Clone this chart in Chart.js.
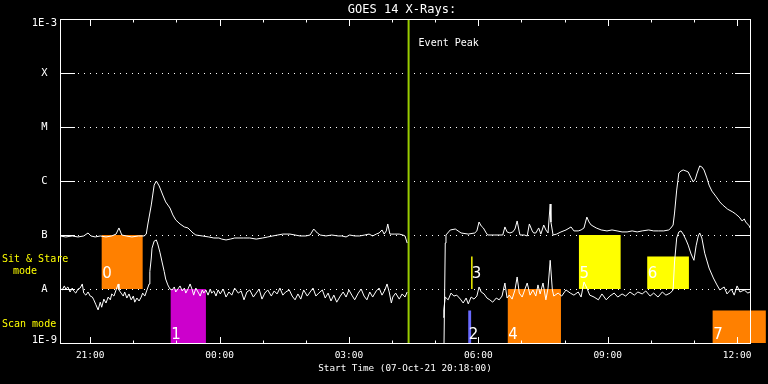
<!DOCTYPE html>
<html lang="en">

<head>
    <meta charset="UTF-8">
    <title>GOES 14 X-Rays</title>
    <script src="https://cdn.jsdelivr.net/npm/chart.js"></script>
    <style>
        html, body { margin: 0; padding: 0; background: #000; }
        #grafico { display: block; }
    </style>
</head>

<body>
    <canvas id="grafico" width="768" height="384"></canvas>
</body>

</html>
<script>
    // tempo em minutos desde 07-Oct-21 20:18:00, fluxo em W/m2
    // canal longo (1-8 A)
    var canalLongo = [
        [0, 9.6e-8], [8, 9.2e-8], [17, 9.6e-8], [25, 9.2e-8], [33, 9.6e-8], [39, 1.09e-7], [43, 9.6e-8], [49, 9.2e-8],
        [56, 9.6e-8], [64, 9.2e-8], [72, 9.6e-8], [78, 1.04e-7], [82, 1.35e-7], [86, 1.0e-7], [92, 9.6e-8], [100, 9.2e-8],
        [109, 9.6e-8], [117, 9.6e-8], [120, 1.04e-7], [122, 1.53e-7], [127, 3.6e-7], [131, 8.4e-7], [134, 1.0e-6], [138, 8.1e-7],
        [143, 5.5e-7], [147, 4.1e-7], [153, 3.16e-7], [157, 2.35e-7], [161, 1.9e-7], [167, 1.6e-7], [173, 1.41e-7], [178, 1.35e-7],
        [185, 1.09e-7], [189, 1.0e-7], [198, 9.6e-8], [207, 9.2e-8], [214, 8.8e-8], [221, 8.8e-8], [225, 8.4e-8], [231, 8.1e-8],
        [237, 8.4e-8], [243, 8.8e-8], [255, 8.8e-8], [264, 8.8e-8], [273, 8.4e-8], [282, 8.8e-8], [289, 9.2e-8], [296, 9.6e-8],
        [303, 1.0e-7], [310, 1.04e-7], [320, 1.04e-7], [327, 1.0e-7], [334, 9.6e-8], [342, 9.6e-8], [348, 1.0e-7], [353, 1.29e-7],
        [358, 1.09e-7], [362, 1.0e-7], [370, 9.6e-8], [378, 1.0e-7], [387, 9.6e-8], [392, 9.6e-8], [398, 9.2e-8], [403, 1.0e-7],
        [410, 9.6e-8], [417, 9.6e-8], [424, 1.0e-7], [430, 1.04e-7], [435, 9.6e-8], [440, 1.04e-7], [444, 1.09e-7], [448, 1.24e-7],
        [451, 1.04e-7], [454, 1.19e-7], [456, 1.6e-7], [459, 1.04e-7], [465, 1.04e-7], [472, 1.04e-7], [477, 1.0e-7], [480, 9.6e-8],
        [483, 7.1e-8], [500, null],
        [534, 5e-10], [536, 7.1e-8], [537, 1.0e-7], [543, 1.24e-7], [550, 1.29e-7], [558, 1.09e-7], [568, 1.04e-7], [577, 1.09e-7],
        [580, 1.19e-7], [583, 1.74e-7], [586, 1.47e-7], [589, 1.35e-7], [593, 1.09e-7], [595, 1.0e-7], [605, 1.0e-7], [616, 1.0e-7],
        [619, 1.41e-7], [622, 1.14e-7], [626, 1.09e-7], [630, 1.14e-7], [633, 1.29e-7], [636, 1.82e-7], [639, 1.14e-7], [640, 1.0e-7],
        [646, 1.0e-7], [650, 9.6e-8], [653, 1.6e-7], [657, 1.19e-7], [659, 1.09e-7], [662, 1.09e-7], [666, 1.35e-7], [669, 1.04e-7],
        [673, 1.53e-7], [676, 1.24e-7], [679, 1.09e-7], [682, 3.75e-7], [683, 1.74e-7], [686, 1.0e-7], [691, 1.04e-7], [697, 1.14e-7],
        [704, 1.24e-7], [711, 1.41e-7], [715, 1.19e-7], [721, 1.19e-7], [725, 1.24e-7], [729, 1.35e-7], [733, 2.15e-7], [736, 1.74e-7],
        [739, 1.53e-7], [746, 1.35e-7], [753, 1.24e-7], [761, 1.19e-7], [768, 1.24e-7], [775, 1.19e-7], [782, 1.14e-7], [789, 1.14e-7],
        [796, 1.19e-7], [803, 1.14e-7], [810, 1.19e-7], [819, 1.24e-7], [826, 1.19e-7], [833, 1.19e-7], [840, 1.19e-7], [847, 1.24e-7],
        [850, 1.35e-7], [853, 1.53e-7], [855, 2.55e-7], [858, 6.8e-7], [861, 1.41e-6], [864, 1.53e-6], [867, 1.6e-6], [871, 1.53e-6],
        [874, 1.47e-6], [878, 1.14e-6], [881, 9.6e-7], [884, 1.09e-6], [886, 1.35e-6], [890, 1.9e-6], [893, 1.82e-6], [896, 1.6e-6],
        [900, 1.14e-6], [903, 8.4e-7], [907, 6.5e-7], [913, 5.1e-7], [918, 4.1e-7], [922, 3.6e-7], [929, 3.0e-7], [936, 2.67e-7],
        [940, 2.45e-7], [945, 2.15e-7], [949, 1.82e-7], [952, 1.98e-7], [954, 1.74e-7], [959, 1.47e-7], [960, 1.35e-7]
    ];

    // canal curto (0.5-4 A)
    var canalCurto = [
        [0, 1.04e-8], [3, 9.6e-9], [6, 1.14e-8], [8, 1.0e-8], [11, 1.09e-8], [14, 8.8e-9], [17, 1.04e-8], [19, 9.2e-9],
        [22, 8.4e-9], [25, 1.0e-8], [28, 1.04e-8], [31, 1.24e-8], [33, 8.4e-9], [36, 7.7e-9], [39, 8.8e-9], [42, 7.4e-9],
        [45, 7.1e-9], [47, 6.3e-9], [50, 5.1e-9], [53, 4.1e-9], [56, 5.7e-9], [58, 4.6e-9], [61, 6.5e-9], [64, 5.5e-9],
        [67, 7.1e-9], [70, 6.3e-9], [72, 8.1e-9], [75, 7.4e-9], [78, 9.6e-9], [81, 1.24e-8], [82, 9.6e-9], [85, 8.4e-9],
        [88, 7.4e-9], [90, 8.8e-9], [93, 6.8e-9], [96, 8.1e-9], [99, 6.3e-9], [102, 7.4e-9], [104, 5.7e-9], [107, 6.8e-9],
        [110, 6.0e-9], [113, 7.1e-9], [115, 8.4e-9], [118, 7.4e-9], [121, 9.6e-9], [124, 1.24e-8], [125, 2.1e-8], [127, 3.75e-8],
        [128, 5.7e-8], [131, 7.7e-8], [134, 8.1e-8], [136, 6.8e-8], [139, 4.8e-8], [142, 3.16e-8], [145, 2.1e-8], [147, 1.53e-8],
        [150, 1.19e-8], [153, 1.0e-8], [156, 9.6e-9], [159, 1.09e-8], [161, 8.8e-9], [164, 1.0e-8], [167, 1.14e-8], [170, 9.2e-9],
        [173, 1.04e-8], [175, 8.4e-9], [178, 1.0e-8], [181, 1.24e-8], [184, 9.6e-9], [186, 7.7e-9], [189, 1.04e-8], [192, 8.8e-9],
        [195, 7.4e-9], [198, 9.6e-9], [200, 8.4e-9], [203, 9.6e-9], [206, 7.7e-9], [209, 1.0e-8], [211, 8.4e-9], [214, 9.2e-9],
        [217, 7.4e-9], [220, 9.6e-9], [223, 8.1e-9], [227, 1.0e-8], [231, 7.1e-9], [235, 8.8e-9], [239, 7.7e-9], [243, 1.04e-8],
        [248, 8.4e-9], [252, 9.2e-9], [256, 6.3e-9], [260, 8.8e-9], [264, 9.6e-9], [269, 7.1e-9], [273, 8.4e-9], [277, 1.0e-8],
        [281, 6.5e-9], [285, 8.4e-9], [289, 9.6e-9], [294, 7.4e-9], [298, 9.2e-9], [302, 8.1e-9], [306, 1.04e-8], [310, 7.7e-9],
        [314, 8.8e-9], [319, 9.6e-9], [323, 7.4e-9], [327, 6.3e-9], [331, 8.1e-9], [335, 6.5e-9], [339, 9.6e-9], [344, 7.4e-9],
        [348, 8.8e-9], [352, 1.04e-8], [356, 7.4e-9], [360, 8.4e-9], [365, 9.6e-9], [369, 6.8e-9], [373, 8.4e-9], [377, 6.0e-9],
        [381, 7.7e-9], [385, 5.7e-9], [390, 7.4e-9], [394, 8.8e-9], [398, 7.1e-9], [402, 9.6e-9], [406, 7.7e-9], [410, 6.3e-9],
        [415, 8.4e-9], [419, 1.0e-8], [423, 7.4e-9], [427, 6.3e-9], [431, 8.8e-9], [435, 7.1e-9], [440, 9.2e-9], [444, 1.04e-8],
        [448, 7.7e-9], [452, 9.6e-9], [455, 1.24e-8], [458, 8.8e-9], [461, 5.5e-9], [463, 7.1e-9], [467, 8.4e-9], [472, 6.5e-9],
        [476, 8.1e-9], [480, 7.1e-9], [483, 8.8e-9], [500, null],
        [533, 3.0e-9], [534, 4.1e-9], [536, 7.1e-9], [540, 6.3e-9], [544, 8.4e-9], [548, 7.4e-9], [552, 7.7e-9], [557, 6.5e-9],
        [561, 5.5e-9], [565, 6.8e-9], [568, 5.3e-9], [572, 7.1e-9], [576, 6.5e-9], [580, 7.4e-9], [583, 1.09e-8], [586, 8.8e-9],
        [590, 8.1e-9], [594, 6.8e-9], [598, 6.3e-9], [602, 5.7e-9], [607, 6.8e-9], [611, 6.3e-9], [615, 7.4e-9], [619, 1.29e-8],
        [622, 6.8e-9], [625, 7.7e-9], [629, 6.5e-9], [633, 9.6e-9], [636, 1.67e-8], [639, 8.4e-9], [643, 7.1e-9], [646, 9.2e-9],
        [650, 1.29e-8], [654, 7.7e-9], [658, 9.6e-9], [662, 7.4e-9], [665, 1.19e-8], [668, 8.1e-9], [672, 1.29e-8], [676, 6.3e-9],
        [679, 1.04e-8], [682, 3.4e-8], [685, 9.6e-9], [687, 7.4e-9], [693, 8.4e-9], [698, 7.4e-9], [704, 9.6e-9], [710, 8.4e-9],
        [715, 7.7e-9], [721, 8.8e-9], [725, 7.1e-9], [729, 1.35e-8], [733, 1.04e-8], [737, 7.7e-9], [743, 7.1e-9], [749, 6.3e-9],
        [754, 8.1e-9], [760, 6.3e-9], [765, 7.4e-9], [771, 8.4e-9], [776, 7.1e-9], [782, 8.1e-9], [787, 7.4e-9], [793, 8.8e-9],
        [799, 7.7e-9], [804, 8.8e-9], [810, 8.1e-9], [815, 9.2e-9], [821, 7.4e-9], [826, 8.4e-9], [832, 7.1e-9], [838, 8.8e-9],
        [843, 7.7e-9], [849, 8.4e-9], [853, 9.6e-9], [855, 3.16e-8], [858, 8.8e-8], [861, 1.14e-7], [864, 1.19e-7], [867, 1.04e-7],
        [871, 8.1e-8], [874, 6.5e-8], [878, 4.45e-8], [882, 3.4e-8], [885, 6.3e-8], [888, 9.6e-8], [890, 1.09e-7], [893, 8.8e-8],
        [897, 4.6e-8], [903, 2.45e-8], [909, 1.6e-8], [914, 1.19e-8], [918, 9.6e-9], [924, 1.09e-8], [928, 8.1e-9], [934, 1.0e-8],
        [938, 7.7e-9], [942, 1.14e-8], [946, 8.8e-9], [952, 9.6e-9], [957, 8.4e-9], [960, 8.8e-9]
    ];

    // eixos
    var ticksHora = [42, 222, 402, 582, 762, 942];
    var rotulosHora = ["21:00", "00:00", "03:00", "06:00", "09:00", "12:00"];
    var ticksMenores = [42, 102, 162, 222, 282, 342, 402, 462, 522, 582, 642, 702, 762, 822, 882, 942];
    var ticksFluxo = [1e-9, 1e-8, 1e-7, 1e-6, 1e-5, 1e-4, 1e-3];
    var rotulosFluxo = ["1E-9", "A", "B", "C", "M", "X", "1E-3"];

    // pico do evento (minutos)
    var picoEvento = 485;

    // blocos de observacao
    var blocoNome = ["0", "1", "2", "3", "4", "5", "6", "7"];
    var blocoInicio = [58, 154, 568, 572, 623, 722, 817, 908];
    var blocoFim = [115, 203, 572, 574, 697, 780, 875, 982];
    var blocoMin = [1e-8, 1e-9, 1e-9, 1e-8, 1e-9, 1e-8, 1e-8, 1e-9];
    var blocoMax = [1e-7, 1e-8, 4e-9, 4e-8, 1e-8, 1e-7, 4e-8, 4e-9];

    var coresBloco = ['#ff8000', '#cc00cc', '#6a6aff', '#ffff00', '#ff8000', '#ffff00', '#ffff00', '#ff8000'];
    var mono = 'DejaVu Sans Mono';

    // plugin que desenha moldura, pontilhado, blocos e textos soltos
    var desenhos = {
        id: 'desenhos',
        beforeDatasetsDraw: function (chart) {
            var c = chart.ctx, a = chart.chartArea, sx = chart.scales.x, sy = chart.scales.y;
            c.save();
            c.strokeStyle = '#ffffff';
            c.lineWidth = 1;
            c.setLineDash([1, 5]);
            for (var i = 1; i < ticksFluxo.length - 1; i++) {
                var py = Math.round(sy.getPixelForValue(ticksFluxo[i])) + 0.5;
                c.beginPath();
                c.moveTo(a.left + 18, py);
                c.lineTo(a.right - 15, py);
                c.stroke();
            }
            c.setLineDash([]);

            for (var j = 0; j < blocoNome.length; j++) {
                var x0 = sx.getPixelForValue(blocoInicio[j]);
                var x1 = sx.getPixelForValue(blocoFim[j]);
                var y0 = sy.getPixelForValue(blocoMax[j]);
                var y1 = sy.getPixelForValue(blocoMin[j]);
                c.fillStyle = coresBloco[j];
                c.fillRect(x0, y0, x1 - x0, y1 - y0);
                c.fillStyle = '#ffffff';
                c.font = '15px "DejaVu Sans"';
                c.textAlign = 'left';
                c.textBaseline = 'alphabetic';
                c.fillText(blocoNome[j], x0 + 0.5, blocoMin[j] < 1e-8 ? y1 - 4 : y1 - 11);
            }
            c.restore();
        },
        afterDatasetsDraw: function (chart) {
            var c = chart.ctx, a = chart.chartArea, sx = chart.scales.x, sy = chart.scales.y;
            c.save();
            c.strokeStyle = '#ffffff';
            c.lineWidth = 1;
            c.strokeRect(a.left + 0.5, a.top + 0.5, a.right - a.left, a.bottom - a.top);

            c.beginPath();
            for (var i = 0; i < ticksFluxo.length; i++) {
                var py = Math.round(sy.getPixelForValue(ticksFluxo[i])) + 0.5;
                c.moveTo(a.left, py); c.lineTo(a.left + 15, py);
                c.moveTo(a.right - 15, py); c.lineTo(a.right + 1, py);
            }
            for (var k = 0; k < ticksMenores.length; k++) {
                var px = Math.round(sx.getPixelForValue(ticksMenores[k])) + 0.5;
                var tam = ticksHora.indexOf(ticksMenores[k]) >= 0 ? 7 : 3.5;
                c.moveTo(px, a.top); c.lineTo(px, a.top + tam);
                c.moveTo(px, a.bottom + 1); c.lineTo(px, a.bottom + 1 - tam);
            }
            c.stroke();

            c.fillStyle = '#ffffff';
            c.textBaseline = 'middle';
            c.textAlign = 'center';
            c.font = '12px "' + mono + '"';
            c.fillText('GOES 14 X-Rays:', 402, 10);

            c.textAlign = 'left';
            c.font = '10px "' + mono + '"';
            c.fillText('Event Peak', sx.getPixelForValue(picoEvento) + 10, 43);

            c.fillStyle = '#ffff00';
            c.fillText('Sit & Stare', 2, 259);
            c.fillText('mode', 13, 271);
            c.fillText('Scan mode', 2, 324);
            c.restore();
        }
    };

    var ctx = document.getElementById("grafico").getContext("2d");
    var config = {
        type: 'line',
        data: {
            datasets: [
                {
                    label: 'Longo',
                    data: canalLongo.map(function (p) { return { x: p[0], y: p[1] }; }),
                    borderColor: '#ffffff',
                    borderWidth: 1,
                    pointRadius: 0,
                    tension: 0,
                    spanGaps: false
                },
                {
                    label: 'Curto',
                    data: canalCurto.map(function (p) { return { x: p[0], y: p[1] }; }),
                    borderColor: '#ffffff',
                    borderWidth: 1,
                    pointRadius: 0,
                    tension: 0,
                    spanGaps: false
                },
                {
                    label: 'Event Peak',
                    data: [{ x: picoEvento, y: ticksFluxo[0] }, { x: picoEvento, y: ticksFluxo[ticksFluxo.length - 1] }],
                    borderColor: '#99cc00',
                    borderWidth: 2,
                    pointRadius: 0
                }
            ]
        },
        options: {
            responsive: false,
            animation: false,
            devicePixelRatio: 1,
            layout: { padding: { top: 19, right: 18, left: 0, bottom: 0 } },
            plugins: {
                legend: { display: false },
                tooltip: { enabled: false }
            },
            scales: {
                x: {
                    type: 'linear',
                    min: 0,
                    max: 960,
                    grid: { display: false, drawTicks: false },
                    border: { display: false },
                    afterBuildTicks: function (s) {
                        s.ticks = ticksHora.map(function (v) { return { value: v }; });
                    },
                    afterFit: function (s) { s.height = 41; },
                    ticks: {
                        color: '#ffffff',
                        padding: 7,
                        maxRotation: 0,
                        autoSkip: false,
                        font: { family: mono, size: 9.5 },
                        callback: function (v, i) { return rotulosHora[i]; }
                    },
                    title: {
                        display: true,
                        text: 'Start Time (07-Oct-21 20:18:00)',
                        color: '#ffffff',
                        font: { family: mono, size: 9.3 },
                        padding: { top: 0, bottom: 10 }
                    }
                },
                y: {
                    type: 'logarithmic',
                    min: 1e-9,
                    max: 1e-3,
                    grid: { display: false, drawTicks: false },
                    border: { display: false },
                    afterBuildTicks: function (s) {
                        s.ticks = ticksFluxo.map(function (v) { return { value: v }; });
                    },
                    afterFit: function (s) { s.width = 60; },
                    ticks: {
                        color: '#ffffff',
                        padding: 3,
                        crossAlign: 'center',
                        font: function (c) {
                            // rotulos das pontas ficam para dentro do quadro
                            var lh = c.index === 0 ? '6px' : (c.index === 6 ? '8px' : 1.2);
                            return { family: mono, size: 10.5, lineHeight: lh };
                        },
                        callback: function (v, i) {
                            if (i === 0) return [rotulosFluxo[i], ''];
                            if (i === ticksFluxo.length - 1) return ['', rotulosFluxo[i]];
                            return rotulosFluxo[i];
                        }
                    }
                }
            }
        },
        plugins: [desenhos]
    };
    var graficoGoes = new Chart(ctx, config);
</script>
